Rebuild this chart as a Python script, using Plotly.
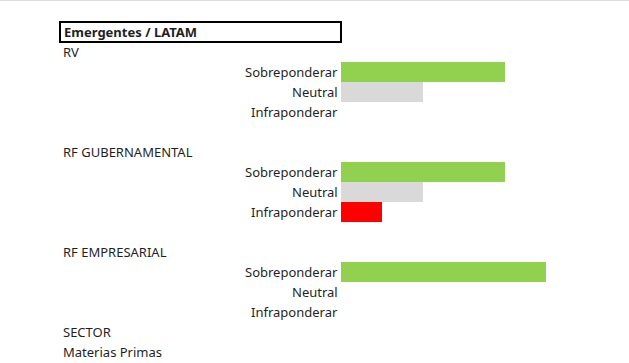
import plotly.graph_objects as go

title = "Emergentes / LATAM"
sections = ["RV", "RF GUBERNAMENTAL", "RF EMPRESARIAL"]
categories = ["Sobreponderar", "Neutral", "Infraponderar"]
values = {
    "RV": [4, 2, 0],
    "RF GUBERNAMENTAL": [4, 2, 1],
    "RF EMPRESARIAL": [5, 0, 0],
}
trailing = ["SECTOR", "Materias Primas"]
colors = ["#92D050", "#D9D9D9", "#FF0000"]

W, H = 629, 363
X0_PX = 341      # pixel of value 0
UNIT_PX = 41     # pixels per unit
ROW0_PX = 32     # centre of row 0
ROW_PX = 20

FONT = "Noto Sans"
TXT = "#1f1f1f"

def px_to_x(p):
    return (p - X0_PX) / UNIT_PX

fig = go.Figure()
annotations = []

row = 1
bar_y = {c: [] for c in categories}
bar_x = {c: [] for c in categories}
for s in sections:
    annotations.append(dict(x=px_to_x(61), y=row, text=s, xanchor="left", showarrow=False))
    row += 1
    for c, v in zip(categories, values[s]):
        annotations.append(dict(x=px_to_x(340), y=row, text=c, xanchor="right", showarrow=False))
        bar_y[c].append(row)
        bar_x[c].append(v)
        row += 1
    if s != sections[-1]:
        row += 1
for t in trailing:
    annotations.append(dict(x=px_to_x(61), y=row, text=t, xanchor="left", showarrow=False))
    row += 1

for c, col in zip(categories, colors):
    fig.add_trace(go.Bar(x=bar_x[c], y=bar_y[c], orientation="h", width=1.0,
                         marker=dict(color=col, line=dict(width=0)),
                         base=0, name=c, showlegend=False, hoverinfo="skip"))

annotations.append(dict(x=px_to_x(62), y=0, text="<b>" + title + "</b>", xanchor="left", showarrow=False))

for a in annotations:
    a.setdefault("font", dict(family=FONT, size=13, color=TXT))
    a["yanchor"] = "middle"
    a["xref"] = "x"
    a["yref"] = "y"

fig.update_layout(
    width=W, height=H,
    margin=dict(l=0, r=0, t=0, b=0),
    paper_bgcolor="white", plot_bgcolor="white",
    barmode="overlay", bargap=0,
    annotations=annotations,
    shapes=[
        dict(type="rect", xref="x", yref="y", x0=px_to_x(60), x1=px_to_x(341), y0=-0.5, y1=0.5,
             line=dict(color="black", width=2), fillcolor="rgba(0,0,0,0)"),
        dict(type="line", xref="paper", yref="paper", x0=0, x1=1, y0=0.999, y1=0.999,
             line=dict(color="#d9d9d9", width=1)),
    ],
)
fig.update_xaxes(range=[px_to_x(0), px_to_x(W)], visible=False, fixedrange=True)
fig.update_yaxes(range=[(H - ROW0_PX) / ROW_PX, -ROW0_PX / ROW_PX], visible=False, fixedrange=True)

fig.write_html("out.html", config={"displayModeBar": False},
               post_script="document.body.style.margin='0';document.body.style.overflow='hidden';")
